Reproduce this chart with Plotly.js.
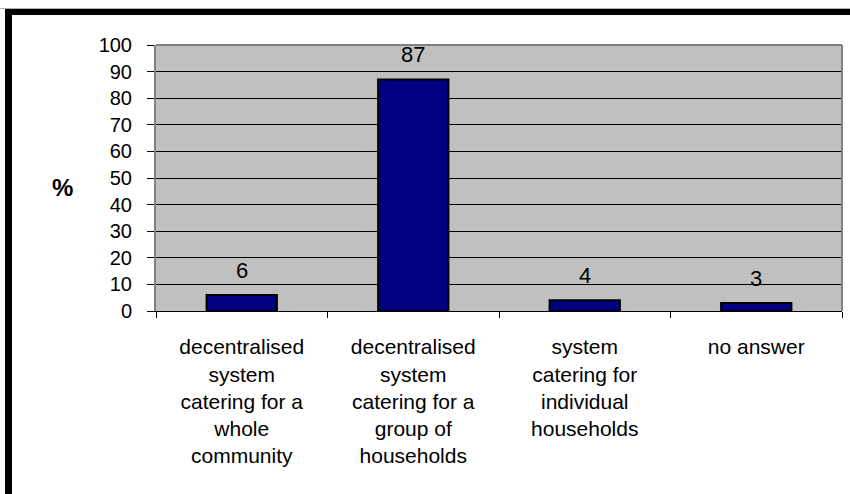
<!DOCTYPE html>
<html>
<head>
<meta charset="utf-8">
<script src="https://cdn.plot.ly/plotly-3.0.1.min.js"></script>
<style>
  html, body { margin: 0; padding: 0; background: #fff; overflow: hidden; }
  #wrap { position: relative; width: 850px; height: 494px; }
  #chart { position: absolute; left: 0; top: 0; width: 850px; height: 494px; }
  #frame { position: absolute; left: 5px; top: 9px; width: 900px; height: 600px;
           border-left: 7px solid #000; border-top: 6px solid #000; box-sizing: border-box;
           pointer-events: none; }
  #topline { position: absolute; left: 0; top: 8px; width: 850px; height: 1px; background: #b0b0b0; }
</style>
</head>
<body>
<div id="wrap">
  <div id="chart"></div>
  <div id="topline"></div>
  <div id="frame"></div>
</div>
<script>
const categories = [
  "decentralised system catering for a whole community",
  "decentralised system catering for a group of households",
  "system catering for individual households",
  "no answer"
];
const tickLabels = [
  "decentralised<br>system<br>catering for a<br>whole<br>community",
  "decentralised<br>system<br>catering for a<br>group of<br>households",
  "system<br>catering for<br>individual<br>households",
  "no answer"
];
const values = [6, 87, 4, 3];
const valueLabels = ["6", "87", "4", "3"];
const yTicks = [0, 10, 20, 30, 40, 50, 60, 70, 80, 90, 100];

const FONT = "Liberation Sans, Arial, Helvetica, sans-serif";

const trace = {
  type: "bar",
  x: categories,
  y: values,
  width: 0.41,
  marker: { color: "#000080", line: { color: "#000000", width: 2 } },
  hoverinfo: "skip"
};

const annotations = categories.map((c, i) => ({
  x: c, y: values[i], xref: "x", yref: "y",
  text: valueLabels[i], showarrow: false,
  xanchor: "center", yanchor: "middle", yshift: 25,
  font: { family: FONT, size: 22, color: "#000" }
}));
annotations.push({
  x: (62 - 156) / 686, y: (311 - 187) / 266, xref: "paper", yref: "paper",
  xanchor: "center", yanchor: "middle",
  text: "<b>%</b>", showarrow: false,
  font: { family: FONT, size: 24, color: "#000" }
});

const layout = {
  width: 850, height: 494,
  margin: { l: 156, r: 8, t: 45, b: 183, pad: 0 },
  paper_bgcolor: "#ffffff",
  plot_bgcolor: "#c0c0c0",
  showlegend: false,
  font: { family: FONT, size: 21, color: "#000" },
  xaxis: {
    type: "category",
    categoryorder: "array", categoryarray: categories,
    tickvals: categories, ticktext: tickLabels,
    tickson: "boundaries",
    ticks: "outside", ticklen: 6, tickwidth: 1, tickcolor: "#000",
    showline: true, linecolor: "#000", linewidth: 1,
    showgrid: false, zeroline: false,
    tickangle: 0,
    ticklabelstandoff: 17,
    tickfont: { family: FONT, size: 21, color: "#000" },
    fixedrange: true
  },
  yaxis: {
    range: [0, 100],
    tickvals: yTicks,
    ticks: "outside", ticklen: 7, tickwidth: 1, tickcolor: "#000",
    showline: true, linecolor: "#808080", linewidth: 2,
    showgrid: true, gridcolor: "#000", gridwidth: 1,
    zeroline: true, zerolinecolor: "#000", zerolinewidth: 1,
    ticklabelstandoff: 11,
    tickfont: { family: FONT, size: 20, color: "#000" },
    fixedrange: true
  },
  shapes: [
    { type: "line", xref: "paper", yref: "paper", x0: 0, x1: 1, y0: 1, y1: 1,
      line: { color: "#808080", width: 2 } },
    { type: "line", xref: "paper", yref: "paper", x0: 1, x1: 1, y0: 0, y1: 1,
      line: { color: "#808080", width: 2 } }
  ],
  annotations: annotations
};

Plotly.newPlot("chart", [trace], layout, { staticPlot: true, displayModeBar: false });
</script>
</body>
</html>
